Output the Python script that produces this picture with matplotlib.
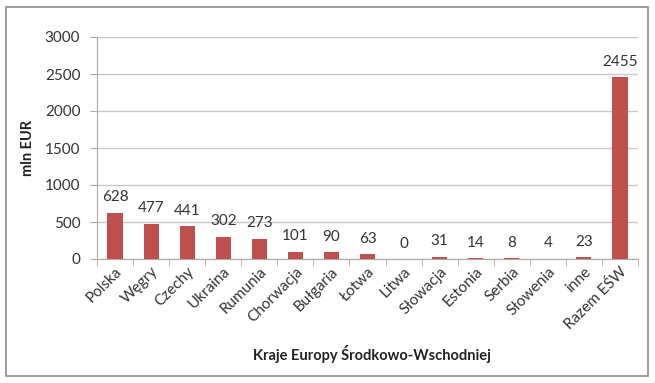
import matplotlib.pyplot as plt
from matplotlib.patches import Rectangle
import numpy as np

plt.rcParams['font.family'] = ['Lato', 'DejaVu Sans']

countries = ['Polska', 'Węgry', 'Czechy', 'Ukraina', 'Rumunia', 'Chorwacja', 'Bułgaria',
             'Łotwa', 'Litwa', 'Słowacja', 'Estonia', 'Serbia', 'Słowenia', 'inne', 'Razem EŚW']
values = [628, 477, 441, 302, 273, 101, 90, 63, 0, 31, 14, 8, 4, 23, 2455]

fig = plt.figure(figsize=(6.55, 3.83), dpi=100)
fig.patch.set_facecolor('white')
# outer frame around the chart
fig.add_artist(Rectangle((6 / 655, 7 / 383), 642 / 655, 369 / 383, transform=fig.transFigure,
                         fill=False, edgecolor='#8c8c8c', linewidth=1.2))

ax = fig.add_axes([97 / 655, 1 - 259 / 383, 541 / 655, 222 / 383])
x = np.arange(len(countries))
ax.bar(x, values, width=0.42, color='#c0504d', zorder=3)

for xi, v in zip(x, values):
    ax.annotate(str(v), (xi, v), xytext=(0, 6), textcoords='offset points',
                ha='center', va='bottom', fontsize=11, color='#333333')

ax.set_xlim(-0.5, len(countries) - 0.5)
ax.set_ylim(0, 3000)
ax.set_yticks(np.arange(0, 3001, 500))
ax.yaxis.grid(True, color='#cfc7c3', linewidth=1, zorder=0)
ax.tick_params(axis='y', length=5, color='#b0a8a4', labelsize=11, labelcolor='#333333', pad=7)

ax.set_xticks(x)
ax.set_xticklabels(countries, rotation=45, ha='right', rotation_mode='anchor', fontsize=11,
                   color='#333333')
ax.tick_params(axis='x', length=0, pad=4)
# tick marks between categories
ax.set_xticks(np.arange(-0.5, len(countries), 1), minor=True)
ax.tick_params(axis='x', which='minor', length=5, color='#b0a8a4')

for side in ['top', 'right']:
    ax.spines[side].set_visible(False)
for side in ['left', 'bottom']:
    ax.spines[side].set_color('#b0a8a4')

ax.set_ylabel('mln EUR', fontsize=10.5, fontweight='bold', color='#222222', labelpad=7)
fig.text(372 / 655, 1 - 354 / 383, 'Kraje Europy Środkowo-Wschodniej', ha='center', va='center',
         fontsize=10.5, fontweight='bold', color='#222222')

fig.savefig('out.png', dpi=100)
